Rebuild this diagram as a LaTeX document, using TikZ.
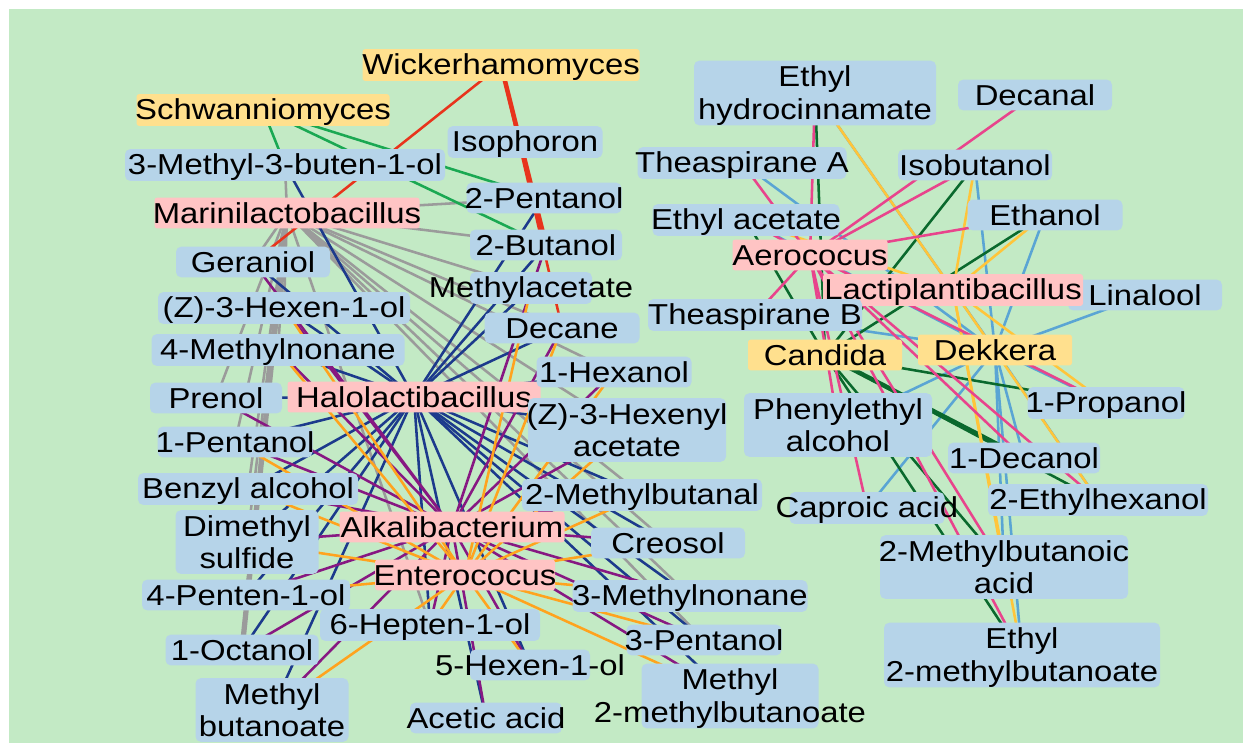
\documentclass[tikz,border=0pt]{standalone}
\usepackage{fontspec}
\setmainfont{Liberation Sans}[FakeStretch=1.14]
\pgfdeclarelayer{edges}
\pgfdeclarelayer{bgl}
\pgfsetlayers{bgl,edges,main}
\definecolor{bggreen}{RGB}{195,234,197}
\definecolor{cmpblue}{RGB}{182,212,233}
\definecolor{bacpink}{RGB}{255,196,196}
\definecolor{ystyel}{RGB}{255,224,142}
\definecolor{eRed}{RGB}{232,52,28}
\definecolor{eGreen}{RGB}{26,168,82}
\definecolor{eGray}{RGB}{155,155,155}
\definecolor{eBlue}{RGB}{28,58,140}
\definecolor{ePurple}{RGB}{135,24,130}
\definecolor{eOrange}{RGB}{255,163,30}
\definecolor{ePink}{RGB}{232,68,140}
\definecolor{eGold}{RGB}{255,197,58}
\definecolor{eDkGreen}{RGB}{10,105,45}
\definecolor{eLtBlue}{RGB}{90,165,212}
\newcommand\mystr{\rule[-2.8pt]{0pt}{17.5pt}}
\newcommand\tl[1]{\makebox[0pt]{\mystr #1}}
\tikzset{
  nd/.style={inner sep=0pt, rounded corners=3pt, align=center,
    font=\fontsize{16.4}{18.7}\selectfont, text=black},
  cmp/.style={nd, fill=cmpblue},
  bac/.style={nd, fill=bacpink, rounded corners=1.5pt},
  yst/.style={nd, fill=ystyel, rounded corners=1.5pt},
  sz/.style 2 args={minimum width=#1*0.02cm, minimum height=#2*0.02cm},
  ed/.style={line width=1.45pt},
}
\begin{document}
\begin{tikzpicture}[x=0.02cm,y=-0.02cm]
\useasboundingbox (0,0) rectangle (1251,751);
\begin{pgfonlayer}{bgl}
\fill[white] (0,0) rectangle (1251,751);
\fill[bggreen] (9,9) rectangle (1243,743);
\end{pgfonlayer}
\node[cmp,sz={154}{30}] (lina) at (1145,295) {\tl{Linalool}};
% yeasts
\node[yst,sz={277}{30}] (wick) at (501,65) {\tl{Wickerhamomyces}};
\node[yst,sz={253}{30}] (schw) at (263,110) {\tl{Schwanniomyces}};
\node[yst,sz={154}{30}] (cand) at (825,355) {\tl{Candida}};
\node[yst,sz={154}{30}] (dekk) at (995,350) {\tl{Dekkera}};
% bacteria
\node[bac,sz={265}{30}] (mari) at (287,213) {\tl{Marinilactobacillus}};
\node[bac,sz={253}{30}] (halo) at (414,397) {\tl{Halolactibacillus}};
\node[bac,sz={225}{29}] (alka) at (452,527) {\tl{Alkalibacterium}};
\node[bac,sz={180}{30}] (ente) at (465,575) {\tl{Enterococus}};
\node[bac,sz={155}{30}] (aero) at (810,255) {\tl{Aerococus}};
\node[bac,sz={260}{30}] (lact) at (953,290) {\tl{Lactiplantibacillus}};
% compounds left
\node[cmp,sz={320}{30}] (m3b) at (285,165) {\tl{3-Methyl-3-buten-1-ol}};
\node[cmp,sz={155}{30}] (isop) at (525,142) {\tl{Isophoron}};
\node[cmp,sz={155}{30}] (pen2) at (544,198) {\tl{2-Pentanol}};
\node[cmp,sz={152}{30}] (but2) at (546,245) {\tl{2-Butanol}};
\node[cmp,sz={154}{30}] (ger) at (253,262) {\tl{Geraniol}};
\node[cmp,sz={122}{29}] (macet) at (531,288) {\tl{Methylacetate}};
\node[cmp,sz={252}{30}] (zhex) at (284,308) {\tl{(Z)-3-Hexen-1-ol}};
\node[cmp,sz={155}{29}] (dec) at (562,328) {\tl{Decane}};
\node[cmp,sz={253}{30}] (mn4) at (278,350) {\tl{4-Methylnonane}};
\node[cmp,sz={132}{30}] (pre) at (216,398) {\tl{Prenol}};
\node[cmp,sz={155}{30}] (hex1) at (614,372) {\tl{1-Hexanol}};
\node[cmp,sz={198}{60}] (zhexa) at (627,430) {\tl{(Z)-3-Hexenyl}\\\tl{acetate}};
\node[cmp,sz={155}{29}] (pen1) at (235,442) {\tl{1-Pentanol}};
\node[cmp,sz={220}{29}] (benz) at (248,489) {\tl{Benzyl alcohol}};
\node[cmp,sz={240}{30}] (mbal) at (642,495) {\tl{2-Methylbutanal}};
\node[cmp,sz={143}{60}] (dms) at (247,542) {\tl{Dimethyl}\\\tl{sulfide}};
\node[cmp,sz={154}{30}] (creo) at (668,543) {\tl{Creosol}};
\node[cmp,sz={208}{30}] (pent4) at (246,595) {\tl{4-Penten-1-ol}};
\node[cmp,sz={235}{30}] (mn3) at (690,596) {\tl{3-Methylnonane}};
\node[cmp,sz={220}{30}] (hep6) at (430,625) {\tl{6-Hepten-1-ol}};
\node[cmp,sz={153}{30}] (oct) at (242,650) {\tl{1-Octanol}};
\node[cmp,sz={155}{30}] (pen3) at (704,640) {\tl{3-Pentanol}};
\node[cmp,sz={120}{30}] (hex5) at (530,665) {\tl{5-Hexen-1-ol}};
\node[cmp,sz={153}{60}] (mbut) at (272,710) {\tl{Methyl}\\\tl{butanoate}};
\node[cmp,sz={177}{58}] (m2mb) at (730,696) {\tl{Methyl}\\\tl{2-methylbutanoate}};
\node[cmp,sz={152}{30}] (acet) at (486,718) {\tl{Acetic acid}};
% compounds right
\node[cmp,sz={242}{60}] (ethh) at (815,93) {\tl{Ethyl}\\\tl{hydrocinnamate}};
\node[cmp,sz={154}{30}] (decal) at (1035,95) {\tl{Decanal}};
\node[cmp,sz={209}{29}] (theA) at (742,163) {\tl{Theaspirane A}};
\node[cmp,sz={154}{30}] (isob) at (975,165) {\tl{Isobutanol}};
\node[cmp,sz={187}{30}] (etac) at (746,220) {\tl{Ethyl acetate}};
\node[cmp,sz={155}{30}] (ethn) at (1045,215) {\tl{Ethanol}};
\node[cmp,sz={214}{30}] (theB) at (755,315) {\tl{Theaspirane B}};
\node[cmp,sz={157}{30}] (prop1) at (1106,403) {\tl{1-Propanol}};
\node[cmp,sz={188}{60}] (phen) at (838,425) {\tl{Phenylethyl}\\\tl{alcohol}};
\node[cmp,sz={152}{29}] (dec1) at (1024,458) {\tl{1-Decanol}};
\node[cmp,sz={155}{30}] (capr) at (867,508) {\tl{Caproic acid}};
\node[cmp,sz={220}{30}] (eth2) at (1098,500) {\tl{2-Ethylhexanol}};
\node[cmp,sz={248}{61}] (mba2) at (1004,567) {\tl{2-Methylbutanoic}\\\tl{acid}};
\node[cmp,sz={276}{60}] (e2mb) at (1022,655) {\tl{Ethyl}\\\tl{2-methylbutanoate}};
% edges
\begin{pgfonlayer}{edges}
\foreach \t in {m3b,pen2,but2,macet,dec,hex1,zhexa,mbal,creo,mn3,pen3,ger,zhex,mn4,pre,pen1,benz,dms,pent4,hep6}
  \draw[eGray,ed] (mari.center) -- (\t.center);
\draw[eGray,line width=3pt] (mari.center) -- (oct.center);
\foreach \t in {m3b,pen2,but2,macet,dec,hex1,ger,zhex,mn4,pre,pen1,benz,dms,pent4,oct,mbut,hep6,hex5,acet,zhexa,mbal,creo,mn3,pen3,m2mb}
  \draw[eBlue,ed] (halo.center) -- (\t.center);
\foreach \t in {ger,zhex,mn4,pre,pen1,benz,dms,pent4,oct,mbut,hep6,hex5,acet,but2,dec,hex1,zhexa,mbal,creo,mn3,pen3,m2mb}
  \draw[ePurple,ed] (alka.center) -- (\t.center);
\foreach \t in {zhex,mn4,pen1,benz,dms,pent4,mbut,hep6,hex5,macet,dec,hex1,zhexa,mbal,creo,mn3,pen3,m2mb}
  \draw[eOrange,ed] (ente.center) -- (\t.center);
\draw[eRed,ed] (wick.center) -- (ger.center);
\draw[eRed,line width=2.6pt] (wick.center) -- (but2.center);
\draw[eRed,ed] (wick.center) -- (dec.center);
\foreach \t in {m3b,pen2,but2}
  \draw[eGreen,ed] (schw.center) -- (\t.center);
\foreach \t in {ethh,isob,ethn,lina,theA,theB,etac,phen,capr,dec1,eth2,mba2,e2mb,prop1}
  \draw[eLtBlue,ed] (dekk.center) -- (\t.center);
\foreach \t in {ethh,isob,ethn,etac,prop1,eth2,mba2,e2mb}
  \draw[eDkGreen,ed] (cand.center) -- (\t.center);
\draw[eDkGreen,line width=2.6pt] (cand.center) -- (dec1.center);
\foreach \t in {isob,ethn,ethh,etac,prop1,eth2,mba2,e2mb}
  \draw[eGold,ed] (lact.center) -- (\t.center);
\foreach \t in {decal,isob,ethn,ethh,theA,theB,etac,capr,mba2,e2mb,prop1,dec1,eth2,phen}
  \draw[ePink,ed] (aero.center) -- (\t.center);
\end{pgfonlayer}
\end{tikzpicture}
\end{document}
